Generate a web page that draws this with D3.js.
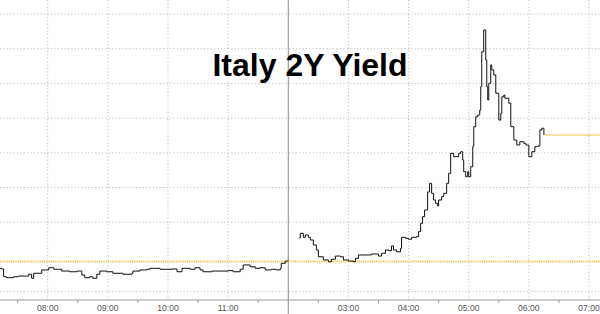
<!DOCTYPE html>
<html>
<head>
<meta charset="utf-8">
<script src="https://cdn.jsdelivr.net/npm/d3@7"></script>
<style>
  html, body { margin: 0; padding: 0; background: white; }
  svg { display: block; }
</style>
</head>
<body>
<svg id="chart" width="600" height="314"></svg>
<script>
// first session (morning, day 1)
const session1Times = ["07:12","07:14","07:16","07:19","07:26","07:31","07:38","07:41","07:44","07:46",
  "07:51","07:54","08:01","08:06","08:14","08:22","08:29","08:34","08:37","08:42",
  "08:45","08:49","08:52","08:59","09:05","09:15","09:24","09:25","09:32","09:39",
  "09:42","09:52","10:04","10:09","10:14","10:22","10:27","10:32","10:35","10:44",
  "10:52","11:00","11:05","11:12","11:15","11:22","11:27","11:32","11:37","11:43",
  "11:48","11:52","11:53","11:57","12:00"];
const session1Values = [0.918,0.913,0.857,0.850,0.857,0.862,0.862,0.875,0.846,0.882,
  0.882,0.906,0.922,0.911,0.898,0.893,0.898,0.870,0.850,0.857,
  0.846,0.875,0.898,0.893,0.882,0.875,0.882,0.898,0.906,0.911,
  0.918,0.911,0.913,0.893,0.918,0.911,0.922,0.906,0.893,0.898,
  0.898,0.901,0.893,0.911,0.942,0.929,0.918,0.922,0.906,0.911,
  0.906,0.918,0.954,0.970,0.973];

// second session (early hours, day 2)
const session2Times = ["02:11","02:12","02:15","02:17","02:20","02:22","02:25","02:28","02:30","02:35",
  "02:40","02:43","02:47","02:52","02:55","03:00","03:05","03:07","03:10","03:17",
  "03:23","03:30","03:33","03:37","03:40","03:43","03:45","03:48","03:52","03:53",
  "03:57","04:00","04:03","04:08","04:10","04:12","04:14","04:16","04:19","04:21",
  "04:23","04:25","04:27","04:29","04:30","04:33","04:35","04:38","04:40","04:42",
  "04:45","04:50","04:52","04:54","04:55","04:57","04:59","05:00","05:02","05:04",
  "05:05","05:07","05:09","05:11","05:12","05:13","05:15","05:17","05:18","05:19",
  "05:20","05:22","05:23","05:25","05:27","05:30","05:32","05:33","05:35","05:36",
  "05:40","05:42","05:45","05:48","05:51","05:55","05:57","06:00","06:03","06:06",
  "06:09","06:11","06:13","06:15"];
const session2Values = [1.136,1.170,1.141,1.158,1.141,1.122,1.086,1.050,1.001,0.978,
  0.965,0.983,1.006,1.001,0.978,0.970,0.965,0.990,1.014,1.014,
  1.021,1.006,1.026,1.050,1.045,1.079,1.050,1.037,1.062,1.141,
  1.134,1.127,1.141,1.146,1.182,1.242,1.290,1.338,1.468,1.530,
  1.458,1.410,1.386,1.367,1.410,1.434,1.458,1.530,1.602,1.746,
  1.722,1.746,1.758,1.698,1.614,1.578,1.614,1.578,1.650,1.794,
  1.938,2.010,2.022,2.058,2.226,2.478,2.635,2.419,2.226,2.130,
  2.251,2.383,2.347,2.311,2.179,1.986,2.035,2.154,2.166,2.143,
  2.107,1.938,1.842,1.806,1.830,1.818,1.806,1.722,1.758,1.794,
  1.799,1.914,1.927,1.878];

const tickLabels = ["08:00","09:00","10:00","11:00","03:00","04:00","05:00","06:00","07:00"];
const gridValues = [0.75, 1.00, 1.25, 1.50, 1.75, 2.00, 2.25, 2.50, 2.75];
const prevClose = 0.967;
const title = "Italy 2Y Yield";

window.addEventListener("load", main);

function main()
{
    const svg = d3.select("svg#chart");
    const width = +svg.attr("width");
    const axisY = 300;

    // session 2 hours are shifted by 10 so that 02:00 follows 12:00
    const toHour = (s, shift) => {
        const [h, m] = s.split(":").map(Number);
        return h + m / 60 + shift;
    };
    const x = d3.scaleLinear().domain([8, 17]).range([47.7, 589]);
    const y = d3.scaleLinear().domain([0.75, 2.75]).range([291.6, 14]);

    const s1 = session1Times.map((t, i) => [toHour(t, 0), session1Values[i]]);
    const s2 = session2Times.map((t, i) => [toHour(t, 10), session2Values[i]]);
    const tickHours = tickLabels.map(t => toHour(t, +t.slice(0, 2) < 8 ? 10 : 0));

    // horizontal dotted grid (the one right on the prev close is hidden)
    svg.selectAll("line.hgrid")
        .data(gridValues.filter(v => Math.abs(y(v) - y(prevClose)) > 6))
        .join("line")
        .attr("class", "hgrid")
        .attr("x1", 0).attr("x2", width)
        .attr("y1", d => y(d)).attr("y2", d => y(d))
        .attr("stroke", "#b4b4b4")
        .attr("stroke-width", 1)
        .attr("stroke-dasharray", "1,2.4");

    // vertical dotted grid at each hour
    svg.selectAll("line.vgrid").data(tickHours).join("line")
        .attr("class", "vgrid")
        .attr("x1", d => x(d)).attr("x2", d => x(d))
        .attr("y1", 0).attr("y2", axisY)
        .attr("stroke", "#b4b4b4")
        .attr("stroke-width", 1)
        .attr("stroke-dasharray", "1,2.4");

    // session break
    svg.append("line")
        .attr("x1", x(12)).attr("x2", x(12))
        .attr("y1", 0).attr("y2", 314)
        .attr("stroke", "#8a8a8a")
        .attr("stroke-width", 1);

    // previous close line
    svg.append("line")
        .attr("x1", 0).attr("x2", width)
        .attr("y1", y(prevClose)).attr("y2", y(prevClose))
        .attr("stroke", "#efc24a")
        .attr("stroke-width", 2.2)
        .attr("stroke-dasharray", "1.2,1");

    // last price line
    const last = s2[s2.length - 1];
    svg.append("line")
        .attr("x1", x(last[0]) + 1).attr("x2", width)
        .attr("y1", y(last[1])).attr("y2", y(last[1]))
        .attr("stroke", "#ecc34e")
        .attr("stroke-width", 1);

    // x axis
    const axis = svg.append("g").attr("transform", `translate(0,${axisY})`);
    axis.append("line")
        .attr("x1", 0).attr("x2", width)
        .attr("stroke", "#9a9a9a");
    const halfHours = d3.range(7.5, 17.5, 1);
    axis.selectAll("line.minor").data(halfHours).join("line")
        .attr("class", "minor")
        .attr("x1", d => x(d)).attr("x2", d => x(d))
        .attr("y1", 0).attr("y2", 3)
        .attr("stroke", "#9a9a9a");
    axis.selectAll("text").data(tickLabels).join("text")
        .text(d => d)
        .attr("x", (d, i) => x(tickHours[i]))
        .attr("y", 11)
        .attr("text-anchor", "middle")
        .attr("font-family", "'Liberation Sans', Arial, sans-serif")
        .attr("font-size", "8.6px")
        .attr("fill", "#555");

    // price line, one path per session
    const line = d3.line().x(d => x(d[0])).y(d => y(d[1])).curve(d3.curveStepAfter);
    svg.selectAll("path.price").data([s1, s2]).join("path")
        .attr("class", "price")
        .attr("d", line)
        .attr("fill", "none")
        .attr("stroke", "#111")
        .attr("stroke-width", 1);

    // title
    svg.append("text")
        .text(title)
        .attr("x", 310)
        .attr("y", 76)
        .attr("text-anchor", "middle")
        .attr("font-family", "'Liberation Sans', Arial, sans-serif")
        .attr("font-weight", "bold")
        .attr("font-size", "32px")
        .attr("fill", "#000");
}
</script>
</body>
</html>
